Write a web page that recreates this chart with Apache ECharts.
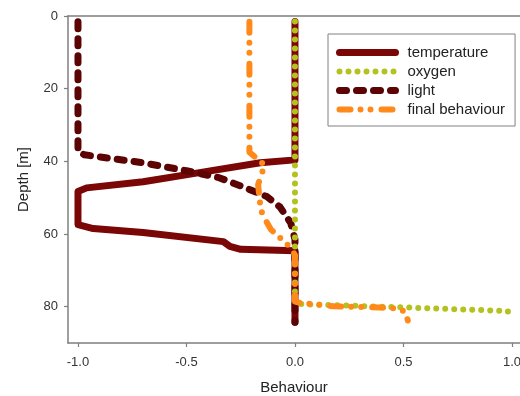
<!DOCTYPE html>
<html>
<head>
<meta charset="utf-8">
<script src="https://cdn.jsdelivr.net/npm/echarts@6/dist/echarts.min.js"></script>
<style>html,body{margin:0;padding:0;background:#fff;}#c{width:520px;height:396px;}</style>
</head>
<body>
<div id="c"></div>
<script>
// ---- data (behaviour value, depth in m) ----
var seriesNames = ['temperature', 'oxygen', 'light', 'final behaviour'];
var xTicks = [-1.0, -0.5, 0.0, 0.5, 1.0];
var yTicks = [0, 20, 40, 60, 80];

var temperatureX = [0, 0, -0.16, -0.44, -0.70, -0.96, -1.0, -1.0, -0.93, -0.70, -0.33, -0.30, -0.25, 0, 0];
var temperatureDepth = [1.5, 39.6, 40.4, 43.1, 45.6, 47.3, 48.3, 57.4, 58.5, 59.6, 62.1, 63.4, 64.2, 64.6, 84.3];

var oxygenX = [0, 0, 0.03, 0.5, 0.98, 1.0];
var oxygenDepth = [1.5, 79.0, 79.3, 80.2, 81.2, 83.5];

var lightX = [-1, -1, -0.97, -0.9, -0.7, -0.5, -0.35, -0.24, -0.13, -0.07, -0.02, 0, 0];
var lightDepth = [1.6, 37.3, 38.2, 38.8, 40.4, 42.6, 44.5, 47.0, 49.7, 52.5, 56.9, 61.5, 84.3];

var finalX = [-0.21, -0.21, -0.19, -0.14, -0.17, -0.16, -0.15, -0.11, -0.06, -0.01, 0, 0, 0.02, 0.18, 0.39, 0.46, 0.51, 0.52];
var finalDepth = [1.6, 37.5, 38.5, 41.0, 46.4, 52.0, 54.7, 58.8, 61.5, 64.3, 66.0, 78.6, 78.9, 79.9, 80.2, 80.5, 81.3, 83.8];

function zip(xs, ds) { return xs.map(function (x, i) { return [x, ds[i]]; }); }

var chart = echarts.init(document.getElementById('c'), null, { renderer: 'canvas' });
var axisColor = '#7f7f7f';
var font = 'Liberation Sans, Arial, sans-serif';

function lineSeries(name, data, color, width, dash, z) {
  return {
    name: name, type: 'line', data: data, symbol: 'none', z: z,
    xAxisIndex: 0, yAxisIndex: 0,
    lineStyle: { color: color, width: width, type: dash, cap: 'round', join: 'round' },
    itemStyle: { color: color },
    emphasis: { disabled: true },
    animation: false
  };
}

chart.setOption({
  animation: false,
  grid: { left: 68, right: 0, top: 16, bottom: 53, containLabel: false, outerBoundsMode: 'none' },
  legend: {
    orient: 'vertical', left: 328, top: 34,
    padding: [11, 10, 9, 8],
    itemGap: 4, itemWidth: 56, itemHeight: 14,
    borderColor: '#808080', borderWidth: 1,
    data: seriesNames,
    itemStyle: { opacity: 0 },
    lineStyle: { width: 'inherit', type: 'inherit', cap: 'round' },
    textStyle: { fontFamily: font, fontSize: 15, color: '#222', padding: [0, 0, 0, 7] }
  },
  xAxis: [{
    type: 'value', position: 'bottom', min: -1.046, max: 1.037,
    name: 'Behaviour', nameLocation: 'middle', nameGap: 37,
    nameTextStyle: { fontFamily: font, fontSize: 15, color: '#222' },
    axisLine: { show: true, onZero: false, lineStyle: { color: axisColor, width: 1.5 } },
    axisTick: { show: true, length: 4, customValues: xTicks, lineStyle: { color: axisColor, width: 1.2 } },
    axisLabel: { customValues: xTicks, margin: 13, fontFamily: font, fontSize: 13, color: '#333',
      formatter: function (v) { return v.toFixed(1); } },
    splitLine: { show: false }
  }, {
    type: 'value', position: 'top', min: -1.046, max: 1.037,
    axisLine: { show: true, onZero: false, lineStyle: { color: axisColor, width: 1.5 } },
    axisTick: { show: false }, axisLabel: { show: false }, splitLine: { show: false }
  }],
  yAxis: {
    type: 'value', inverse: true, min: 0, max: 90,
    name: 'Depth [m]', nameLocation: 'middle', nameGap: 37, nameRotate: 90,
    nameTextStyle: { fontFamily: font, fontSize: 15, color: '#222' },
    axisLine: { show: true, onZero: false, lineStyle: { color: axisColor, width: 1.5 } },
    axisTick: { show: true, length: 4, customValues: yTicks, lineStyle: { color: axisColor, width: 1.2 } },
    axisLabel: { customValues: yTicks, margin: 10, fontFamily: font, fontSize: 13, color: '#333' },
    splitLine: { show: false }
  },
  series: [
    lineSeries('temperature', zip(temperatureX, temperatureDepth), '#7a0606', 7, 'solid', 2),
    lineSeries('oxygen', zip(oxygenX, oxygenDepth), '#b3c21f', 6, [0, 9], 4),
    lineSeries('light', zip(lightX, lightDepth), '#5c0404', 7, [7, 10], 3),
    lineSeries('final behaviour', zip(finalX, finalDepth), '#ff8a1a', 6, [11, 10, 0, 10, 0, 11], 5)
  ]
});
</script>
</body>
</html>
